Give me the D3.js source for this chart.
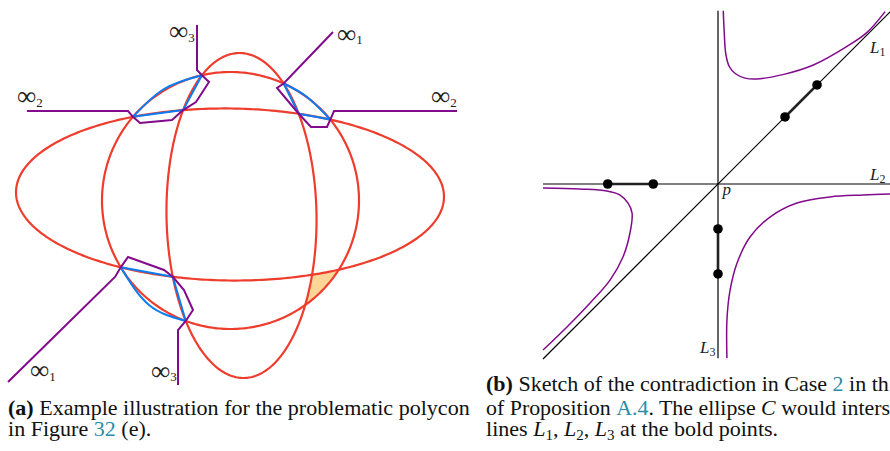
<!DOCTYPE html>
<html>
<head>
<meta charset="utf-8">
<script src="https://cdn.jsdelivr.net/npm/d3@7"></script>
<style>
  html, body { margin: 0; padding: 0; background: #fff; overflow: hidden; }
  svg { display: block; }
</style>
</head>
<body>
<svg id="fig" width="890" height="451"></svg>
<script>
// ---------------- (a) polycon example: three conics ----------------
// sketch units, y pointing up, origin near the middle of the drawing
const conicNames   = ["A", "B", "C"];
const conicCenters = [[0, 0.45], [1.15, -1.65], [0.05, -0.15]];
const conicRadii   = [[21.4, 8.6], [7.5, 16.25], [12.85, 12.85]];
const conicTilts   = [-0.7, 0.9, 0];           // degrees

// crossing points of two conics (approximate, refined by Newton below)
const vertexNames = ["V1", "V2", "V3", "V4", "V5", "V6", "V7", "V8", "V9", "V10", "V11", "V12"];
const vertexPairs = [["A","C"], ["A","B"], ["B","C"], ["B","C"], ["A","B"], ["A","C"],
                     ["A","C"], ["A","B"], ["B","C"], ["A","B"], ["A","C"], ["B","C"]];
const vertexGuess = [[-9.7, 8.2], [-4.8, 8.8], [-3.0, 12.4], [5.2, 11.6], [6.8, 8.7], [10.0, 7.9],
                     [-11.0, -6.9], [-5.8, -7.8], [-4.5, -12.2], [8.2, -7.6], [10.7, -7.2], [7.7, -10.6]];

// blue straight edges and blue curved edges (start, through-point, end)
const blueEdges = [["V1","V2"], ["V2","V3"], ["V4","V5"], ["V5","V6"], ["V7","V8"], ["V8","V9"]];
const blueArcs  = [["V1", [-6.6, 11.0], "V3"], ["V4", [7.7, 10.2], "V6"], ["V7", [-8.1, -10.6], "V9"]];

// purple paths running out to the points at infinity
const purpleTop   = [[-20.3, 8.8], [-10.2, 8.8], "V1", [-9.0, 7.6], [-5.8, 7.9], "V2", [-3.4, 9.7],
                     [-2.1, 11.7], "V3", [-3.3, 12.9], [-3.3, 17.4]];
const purpleRight = [[10.3, 16.7], "V4", [4.7, 11.1], "V5", [8.1, 7.2], [9.7, 7.2], "V6",
                     [10.4, 8.8], [22.7, 8.8]];
const purpleLow   = [[-22.2, -18.3], [-11.5, -7.8], "V7", [-10.2, -5.8], [-6.6, -7.1], "V8",
                     [-4.6, -9.1], [-3.7, -11.1], "V9", [-5.2, -13.1], [-5.2, -18.6]];

// highlighted cell: bounded by A (V10-V11), C (V11-V12), B (V12-V10)
const cellBoundary = [["A", "V10", "V11"], ["C", "V11", "V12"], ["B", "V12", "V10"]];

// labels of the ends at infinity (left edge, vertical centre of the symbol)
const infLabels = [
  { at: [-6.0, 16.55], sub: "3" }, { at: [10.8, 16.3], sub: "1" },
  { at: [-21.2, 10.05], sub: "2" }, { at: [20.2, 10.05], sub: "2" },
  { at: [-19.9, -17.35], sub: "1" }, { at: [-7.8, -17.4], sub: "3" }
];

// ---------------- (b) lines through p and the hyperbola ----------------
const lineNames = ["L1", "L2", "L3"];
const lineEnds  = [[[-10, -10], [9.85, 9.85]], [[-10, 0], [10.2, 0]], [[0, 9.9], [0, -9.95]]];
const boldPairs = [[[3.83, 3.83], [5.66, 5.66]], [[-6.3, 0], [-3.7, 0]], [[0, -2.57], [0, -5.14]]];
const branchTop = [[0.3, 9.9], [0.35, 8.8], [0.45, 7.4], [0.65, 6.7], [1.0, 6.3], [1.55, 6.05],
                   [2.2, 6.0], [3.7, 6.25], [5.45, 6.8], [7.35, 7.85], [8.5, 8.65], [9.55, 9.85]];
const branchLow = [[9.9, -0.57], [8.29, -0.63], [6.4, -0.74], [4.51, -1.09], [2.97, -1.89],
                   [1.83, -3.03], [1.09, -4.51], [0.69, -6.06], [0.51, -7.77], [0.51, -9.94]];
const branchLeft = [[-10, -0.23], [-7.89, -0.29], [-6.34, -0.4], [-5.6, -0.63], [-5.14, -1.09],
                    [-4.91, -1.66], [-5.03, -2.8], [-5.43, -4.17], [-6.17, -5.49], [-7.31, -6.8],
                    [-8.63, -8.17], [-10, -9.49]];
const lineLabels = [
  { name: "L", sub: "1", at: [8.69, 7.49], anchor: "start" },
  { name: "L", sub: "2", at: [8.69, 0.23], anchor: "start" },
  { name: "L", sub: "3", at: [-0.14, -9.66], anchor: "end" },
  { name: "p", sub: "",  at: [0.25, -0.6], anchor: "start" }
];

// ---------------- captions ----------------
const captionA = [
  [{ t: "(a)", b: 1 }, { t: " Example illustration for the problematic polycon" }],
  [{ t: "in Figure " }, { t: "32", link: 1 }, { t: " (e)." }]
];
const captionB = [
  [{ t: "(b)", b: 1 }, { t: " Sketch of the contradiction in Case " }, { t: "2", link: 1 }, { t: " in th" }],
  [{ t: "of Proposition " }, { t: "A.4", link: 1 }, { t: ". The ellipse " }, { t: "C", i: 1 }, { t: " would inters" }],
  [{ t: "lines " }, { t: "L", i: 1 }, { t: "1", sub: 1 }, { t: ", " }, { t: "L", i: 1 }, { t: "2", sub: 1 },
   { t: ", " }, { t: "L", i: 1 }, { t: "3", sub: 1 }, { t: " at the bold points." }]
];

// ====================================================================
const RED = "#ee3d2c", BLUE = "#0c7cf2", PURPLE = "#820a8c", CELL = "#fdd597", LINK = "#2a8ca6";
const svg = d3.select("#fig");
svg.append("rect").attr("width", 890).attr("height", 451).attr("fill", "#fff");

// ---- panel (a)
const xa = d3.scaleLinear().domain([-23, 23]).range([0, 460]);
const ya = d3.scaleLinear().domain([-20, 20]).range([399, -1]);
const conics = {};
conicNames.forEach((n, i) => {
  conics[n] = { c: conicCenters[i], r: conicRadii[i], a: conicTilts[i] * Math.PI / 180 };
});
function conicPoint(E, t) {
  const x = E.r[0] * Math.cos(t), y = E.r[1] * Math.sin(t);
  const ca = Math.cos(E.a), sa = Math.sin(E.a);
  return [E.c[0] + ca * x - sa * y, E.c[1] + sa * x + ca * y];
}
function localOf(E, p) {
  const dx = p[0] - E.c[0], dy = p[1] - E.c[1];
  const ca = Math.cos(E.a), sa = Math.sin(E.a);
  return [ca * dx + sa * dy, -sa * dx + ca * dy];
}
const conicParam = (E, p) => { const l = localOf(E, p); return Math.atan2(l[1] / E.r[1], l[0] / E.r[0]); };
const conicF = (E, p) => { const l = localOf(E, p); return (l[0] / E.r[0]) ** 2 + (l[1] / E.r[1]) ** 2 - 1; };

// refine each crossing with a few Newton steps
const V = {};
vertexNames.forEach((n, i) => {
  const E1 = conics[vertexPairs[i][0]], E2 = conics[vertexPairs[i][1]];
  let p = vertexGuess[i].slice();
  for (let k = 0; k < 30; k++) {
    const f1 = conicF(E1, p), f2 = conicF(E2, p), h = 1e-5;
    const a = (conicF(E1, [p[0] + h, p[1]]) - f1) / h, b = (conicF(E1, [p[0], p[1] + h]) - f1) / h;
    const c = (conicF(E2, [p[0] + h, p[1]]) - f2) / h, d = (conicF(E2, [p[0], p[1] + h]) - f2) / h;
    const det = a * d - b * c;
    if (Math.abs(det) < 1e-12) break;
    p = [p[0] - (d * f1 - b * f2) / det, p[1] - (-c * f1 + a * f2) / det];
  }
  V[n] = p;
});
const pt = q => (typeof q === "string" ? V[q] : q);
function arcBetween(E, P, Q, n = 40) {
  const t0 = conicParam(E, P), t1 = conicParam(E, Q);
  let d = t1 - t0;
  while (d > Math.PI) d -= 2 * Math.PI;
  while (d < -Math.PI) d += 2 * Math.PI;
  return d3.range(n + 1).map(k => conicPoint(E, t0 + d * k / n));
}

const gA = svg.append("g");
const lineA = d3.line().x(d => xa(d[0])).y(d => ya(d[1]));
const closedA = d3.line().x(d => xa(d[0])).y(d => ya(d[1])).curve(d3.curveLinearClosed);
const curveA = d3.line().x(d => xa(d[0])).y(d => ya(d[1])).curve(d3.curveNatural);

// highlighted cell
const cellPts = [].concat(...cellBoundary.map(([e, p, q]) => arcBetween(conics[e], V[p], V[q])));
gA.append("path").attr("d", closedA(cellPts)).attr("fill", CELL).attr("stroke", "none");

// conics
conicNames.forEach(n => {
  const pts = d3.range(360).map(k => conicPoint(conics[n], k / 360 * 2 * Math.PI));
  gA.append("path").attr("d", closedA(pts))
    .attr("fill", "none").attr("stroke", RED).attr("stroke-width", 2.2);
});

// blue edges
blueEdges.forEach(([p, q]) => {
  gA.append("path").attr("d", lineA([V[p], V[q]]))
    .attr("fill", "none").attr("stroke", BLUE).attr("stroke-width", 2);
});
blueArcs.forEach(arc => {
  gA.append("path").attr("d", curveA(arc.map(pt)))
    .attr("fill", "none").attr("stroke", BLUE).attr("stroke-width", 2);
});

// purple paths
[purpleTop, purpleRight, purpleLow].forEach(path => {
  gA.append("path").attr("d", lineA(path.map(pt)))
    .attr("fill", "none").attr("stroke", PURPLE).attr("stroke-width", 2)
    .attr("stroke-linejoin", "miter");
});

// infinity labels
infLabels.forEach(l => {
  const t = gA.append("text").attr("x", xa(l.at[0]) - 1).attr("y", ya(l.at[1]) + 6.5)
    .attr("font-family", "Liberation Serif").attr("fill", "#222");
  t.append("tspan").attr("font-size", 27).text("\u221E");
  t.append("tspan").attr("font-size", 13).attr("dy", 1.5).text(l.sub);
});

// ---- panel (b)
const xb = d3.scaleLinear().domain([-10, 10]).range([543, 893]);
const yb = d3.scaleLinear().domain([-10, 10]).range([359, 9]);
const gB = svg.append("g");
const lineB = d3.line().x(d => xb(d[0])).y(d => yb(d[1]));
const curveB = d3.line().x(d => xb(d[0])).y(d => yb(d[1])).curve(d3.curveCatmullRom.alpha(0.5));

lineEnds.forEach(seg => {
  gB.append("path").attr("d", lineB(seg)).attr("stroke", "#000").attr("stroke-width", 1.2).attr("fill", "none");
});
[branchTop, branchLow, branchLeft].forEach(br => {
  gB.append("path").attr("d", curveB(br)).attr("stroke", PURPLE).attr("stroke-width", 1.5).attr("fill", "none");
});
boldPairs.forEach(pair => {
  gB.append("path").attr("d", lineB(pair)).attr("stroke", "#222").attr("stroke-width", 2.6).attr("fill", "none");
  pair.forEach(q => gB.append("circle").attr("cx", xb(q[0])).attr("cy", yb(q[1])).attr("r", 4.8).attr("fill", "#000"));
});
lineLabels.forEach(l => {
  const t = gB.append("text").attr("x", xb(l.at[0])).attr("y", yb(l.at[1]))
    .attr("font-family", "Liberation Serif").attr("fill", "#222").attr("text-anchor", l.anchor);
  t.append("tspan").attr("font-size", 17).attr("font-style", "italic").text(l.name);
  if (l.sub) t.append("tspan").attr("font-size", 12).attr("dy", 3).text(l.sub);
});

// ---- captions (condensed horizontally to the column width)
function caption(lines, x0, baselines) {
  return lines.map((runs, li) => {
    const t = svg.append("text")
      .attr("data-x", x0).attr("data-y", baselines[li])
      .attr("transform", `translate(${x0},${baselines[li]})`)
      .attr("font-family", "Liberation Serif").attr("font-size", 20.5).attr("fill", "#111")
      .style("white-space", "pre");
    let shifted = false;
    runs.forEach(r => {
      const s = t.append("tspan").text(r.t);
      if (r.b) s.attr("font-weight", "bold");
      if (r.i) s.attr("font-style", "italic");
      if (r.link) s.attr("fill", LINK);
      if (r.sub) { s.attr("font-size", 14).attr("dy", 4); shifted = true; }
      else if (shifted) { s.attr("dy", -4); shifted = false; }
    });
    return t;
  });
}
const capA = caption(captionA, 8, [415, 436]);
const capB = caption(captionB, 486, [391, 415, 436]);
const sx = 462 / capA[0].node().getComputedTextLength();
capA.concat(capB).forEach(t => {
  const x0 = +t.attr("data-x");
  const len = t.node().getComputedTextLength();
  const s = Math.min(sx, (889 - x0) / len);   // keep each line inside the page
  t.attr("transform", `translate(${x0},${t.attr("data-y")}) scale(${s},1)`);
});
</script>
</body>
</html>
